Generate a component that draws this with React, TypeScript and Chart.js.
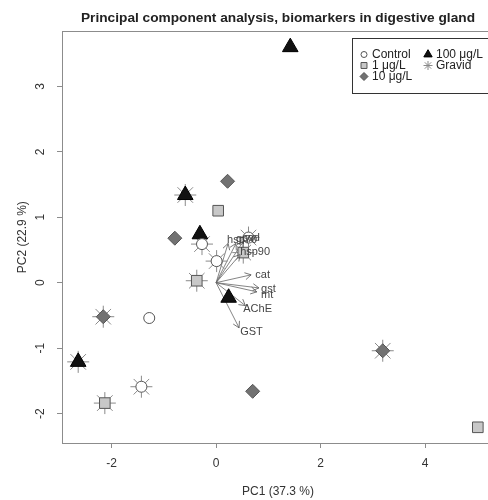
import React, { useEffect, useRef } from "react";
import { Chart, registerables } from "chart.js";
import { drawPoint } from "chart.js/helpers";

Chart.register(...registerables);

// ---- data ----
const TITLE = "Principal component analysis, biomarkers in digestive gland";
const X_TITLE = "PC1 (37.3 %)";
const Y_TITLE = "PC2 (22.9 %)";

const groupNames = ["Control", "1 μg/L", "10 μg/L", "100 μg/L"];
const gravidName = "Gravid";

const controlX = [-1.28, -1.43, -0.27, 0.01, 0.62];
const controlY = [-0.54, -1.59, 0.59, 0.33, 0.69];
const controlGravid = [0, 1, 1, 1, 1];

const c1X = [0.04, 5.01, 0.52, -0.37, -2.13];
const c1Y = [1.1, -2.21, 0.46, 0.03, -1.84];
const c1Gravid = [0, 0, 1, 1, 1];

const c10X = [0.22, -0.79, 0.7, -2.16, 3.19];
const c10Y = [1.55, 0.68, -1.66, -0.52, -1.04];
const c10Gravid = [0, 0, 0, 1, 1];

const c100X = [1.42, -0.31, 0.24, -0.59, -2.64];
const c100Y = [3.6, 0.74, -0.23, 1.34, -1.21];
const c100Gravid = [0, 0, 0, 1, 1];

const varNames = ["hsp70", "gpx", "sod", "hsp90", "cat", "gst", "mt", "AChE", "GST"];
const varX = [0.23, 0.38, 0.52, 0.46, 0.67, 0.82, 0.78, 0.56, 0.44];
const varY = [0.6, 0.6, 0.63, 0.43, 0.12, -0.08, -0.14, -0.35, -0.69];
const labelX = [0.21, 0.38, 0.5, 0.46, 0.75, 0.86, 0.86, 0.52, 0.46];
const labelY = [0.66, 0.67, 0.68, 0.47, 0.12, -0.09, -0.19, -0.4, -0.75];

const xMin = -2.95;
const xMax = 5.32;
const yMin = -2.45;
const yMax = 3.84;

const FONT = "'Liberation Sans', Arial, Helvetica, sans-serif";

const toPts = (xs: number[], ys: number[]) => xs.map((x, i) => ({ x, y: ys[i] }));
const gravidPts = () => {
  const out: { x: number; y: number }[] = [];
  const add = (xs: number[], ys: number[], g: number[]) =>
    xs.forEach((x, i) => {
      if (g[i]) out.push({ x, y: ys[i] });
    });
  add(controlX, controlY, controlGravid);
  add(c1X, c1Y, c1Gravid);
  add(c10X, c10Y, c10Gravid);
  add(c100X, c100Y, c100Gravid);
  return out;
};

const styles = [
  { pointStyle: "circle", radius: 5.5, bg: "#ffffff", border: "#555555", lr: 3 },
  { pointStyle: "rect", radius: 7.5, bg: "#c8c8c8", border: "#555555", lr: 4.2 },
  { pointStyle: "rectRot", radius: 7, bg: "#727272", border: "#555555", lr: 4 },
  { pointStyle: "triangle", radius: 9, bg: "#111111", border: "#000000", lr: 4.8 },
];

export default function App() {
  const ref = useRef<HTMLCanvasElement | null>(null);

  useEffect(() => {
    if (!ref.current) return;
    Chart.defaults.font.family = FONT;

    const arrowDatasets = varX.map((vx, i) => ({
      type: "line" as const,
      label: varNames[i],
      data: [
        { x: 0, y: 0 },
        { x: vx, y: varY[i] },
      ],
      showLine: true,
      borderColor: "#666666",
      borderWidth: 0.8,
      pointRadius: 0,
      order: 10,
    }));

    const groupData = [
      toPts(controlX, controlY),
      toPts(c1X, c1Y),
      toPts(c10X, c10Y),
      toPts(c100X, c100Y),
    ];

    const markerDatasets = groupData.map((d, i) => ({
      type: "scatter" as const,
      label: groupNames[i],
      data: d,
      pointStyle: styles[i].pointStyle,
      pointRadius: styles[i].radius,
      pointBackgroundColor: styles[i].bg,
      pointBorderColor: styles[i].border,
      pointBorderWidth: 1,
      order: 1,
    }));

    const starDataset = {
      type: "scatter" as const,
      label: gravidName,
      data: gravidPts(),
      pointStyle: "star",
      pointRadius: 11,
      pointBackgroundColor: "rgba(0,0,0,0)",
      pointBorderColor: "#8a8a8a",
      pointBorderWidth: 1,
      order: 5,
    };

    const boxPlugin = {
      id: "boxAndExtras",
      afterDatasetsDraw(chart: any) {
        const { ctx, chartArea, scales } = chart;
        const xs = scales.x;
        const ys = scales.y;
        ctx.save();
        // arrowheads + labels
        ctx.strokeStyle = "#555555";
        ctx.lineWidth = 0.8;
        const head = 7;
        varX.forEach((vx, i) => {
          const x0 = xs.getPixelForValue(0);
          const y0 = ys.getPixelForValue(0);
          const x1 = xs.getPixelForValue(vx);
          const y1 = ys.getPixelForValue(varY[i]);
          const ang = Math.atan2(y1 - y0, x1 - x0);
          ctx.beginPath();
          ctx.moveTo(x1 - head * Math.cos(ang - Math.PI / 6), y1 - head * Math.sin(ang - Math.PI / 6));
          ctx.lineTo(x1, y1);
          ctx.lineTo(x1 - head * Math.cos(ang + Math.PI / 6), y1 - head * Math.sin(ang + Math.PI / 6));
          ctx.stroke();
        });
        ctx.fillStyle = "#444444";
        ctx.font = `11px ${FONT}`;
        ctx.textAlign = "left";
        ctx.textBaseline = "middle";
        varNames.forEach((n, i) => {
          ctx.fillText(n, xs.getPixelForValue(labelX[i]), ys.getPixelForValue(labelY[i]));
        });
        // plot box
        ctx.strokeStyle = "#8c8c8c";
        ctx.lineWidth = 1;
        ctx.strokeRect(
          Math.round(chartArea.left) + 0.5,
          Math.round(chartArea.top) + 0.5,
          Math.round(chartArea.right - chartArea.left),
          Math.round(chartArea.bottom - chartArea.top)
        );
        ctx.restore();
      },
      afterDraw(chart: any) {
        const { ctx, chartArea } = chart;
        ctx.save();
        const bx = 352.5;
        const by = Math.round(chartArea.top) + 7.5;
        ctx.fillStyle = "#ffffff";
        ctx.fillRect(bx, by, 138, 55);
        ctx.strokeStyle = "#333333";
        ctx.lineWidth = 1;
        ctx.strokeRect(bx, by, 138, 55);
        const items = [
          { name: groupNames[0], s: 0, col: 0, row: 0 },
          { name: groupNames[1], s: 1, col: 0, row: 1 },
          { name: groupNames[2], s: 2, col: 0, row: 2 },
          { name: groupNames[3], s: 3, col: 1, row: 0 },
          { name: gravidName, s: 4, col: 1, row: 1 },
        ];
        ctx.font = `12px ${FONT}`;
        ctx.textAlign = "left";
        ctx.textBaseline = "middle";
        items.forEach((it) => {
          const sx = bx + 11.5 + it.col * 64;
          const sy = by + 16 + it.row * 11;
          if (it.s < 4) {
            const st = styles[it.s];
            ctx.fillStyle = st.bg;
            ctx.strokeStyle = st.border;
            ctx.lineWidth = 1;
            drawPoint(ctx, { pointStyle: st.pointStyle as any, radius: st.lr, rotation: 0, borderWidth: 1 } as any, sx, sy);
          } else {
            ctx.strokeStyle = "#8a8a8a";
            ctx.lineWidth = 1;
            drawPoint(ctx, { pointStyle: "star", radius: 4.5, rotation: 0, borderWidth: 1 } as any, sx, sy);
          }
          ctx.fillStyle = "#222222";
          ctx.fillText(it.name, sx + 8, sy + 0.5);
        });
        ctx.restore();
      },
    };

    const chart = new Chart(ref.current, {
      type: "scatter",
      data: { datasets: [...markerDatasets, starDataset, ...arrowDatasets] as any },
      options: {
        responsive: false,
        animation: false,
        devicePixelRatio: 1,
        layout: { padding: { left: 0, right: 62, top: 0, bottom: 0 } },
        plugins: {
          legend: { display: false },
          tooltip: { enabled: false },
          title: {
            display: true,
            fullSize: false,
            text: TITLE,
            color: "#222222",
            font: { family: FONT, size: 13.7, weight: "bold" },
            padding: { top: 10, bottom: 5 },
          },
        },
        scales: {
          x: {
            type: "linear",
            min: xMin,
            max: xMax,
            afterFit: (s: any) => {
              s.height = 57;
            },
            ticks: {
              stepSize: 2,
              includeBounds: false,
              color: "#333333",
              font: { family: FONT, size: 12 },
              padding: 8,
              maxRotation: 0,
            },
            grid: { display: true, drawOnChartArea: false, drawTicks: true, tickLength: 5, color: "#8c8c8c" },
            border: { display: true, color: "#8c8c8c" },
            title: {
              display: true,
              text: X_TITLE,
              color: "#333333",
              font: { family: FONT, size: 12 },
              padding: { top: 0, bottom: 1 },
            },
          },
          y: {
            type: "linear",
            min: yMin,
            max: yMax,
            afterFit: (s: any) => {
              s.width = 62;
            },
            ticks: {
              stepSize: 1,
              includeBounds: false,
              color: "#333333",
              font: { family: FONT, size: 12 },
              padding: 11,
              minRotation: 90,
              maxRotation: 90,
              crossAlign: "center",
            },
            grid: { display: true, drawOnChartArea: false, drawTicks: true, tickLength: 5, color: "#8c8c8c" },
            border: { display: true, color: "#8c8c8c" },
            title: {
              display: true,
              text: Y_TITLE,
              color: "#333333",
              font: { family: FONT, size: 12 },
              padding: { top: 15, bottom: 0 },
            },
          },
        },
      } as any,
      plugins: [boxPlugin],
    });
    return () => chart.destroy();
  }, []);

  return (
    <div
      style={{
        position: "fixed",
        left: 0,
        top: 0,
        width: 488,
        height: 500,
        overflow: "hidden",
        background: "#ffffff",
      }}
    >
      <canvas ref={ref} width={556} height={500} style={{ display: "block" }} />
    </div>
  );
}
